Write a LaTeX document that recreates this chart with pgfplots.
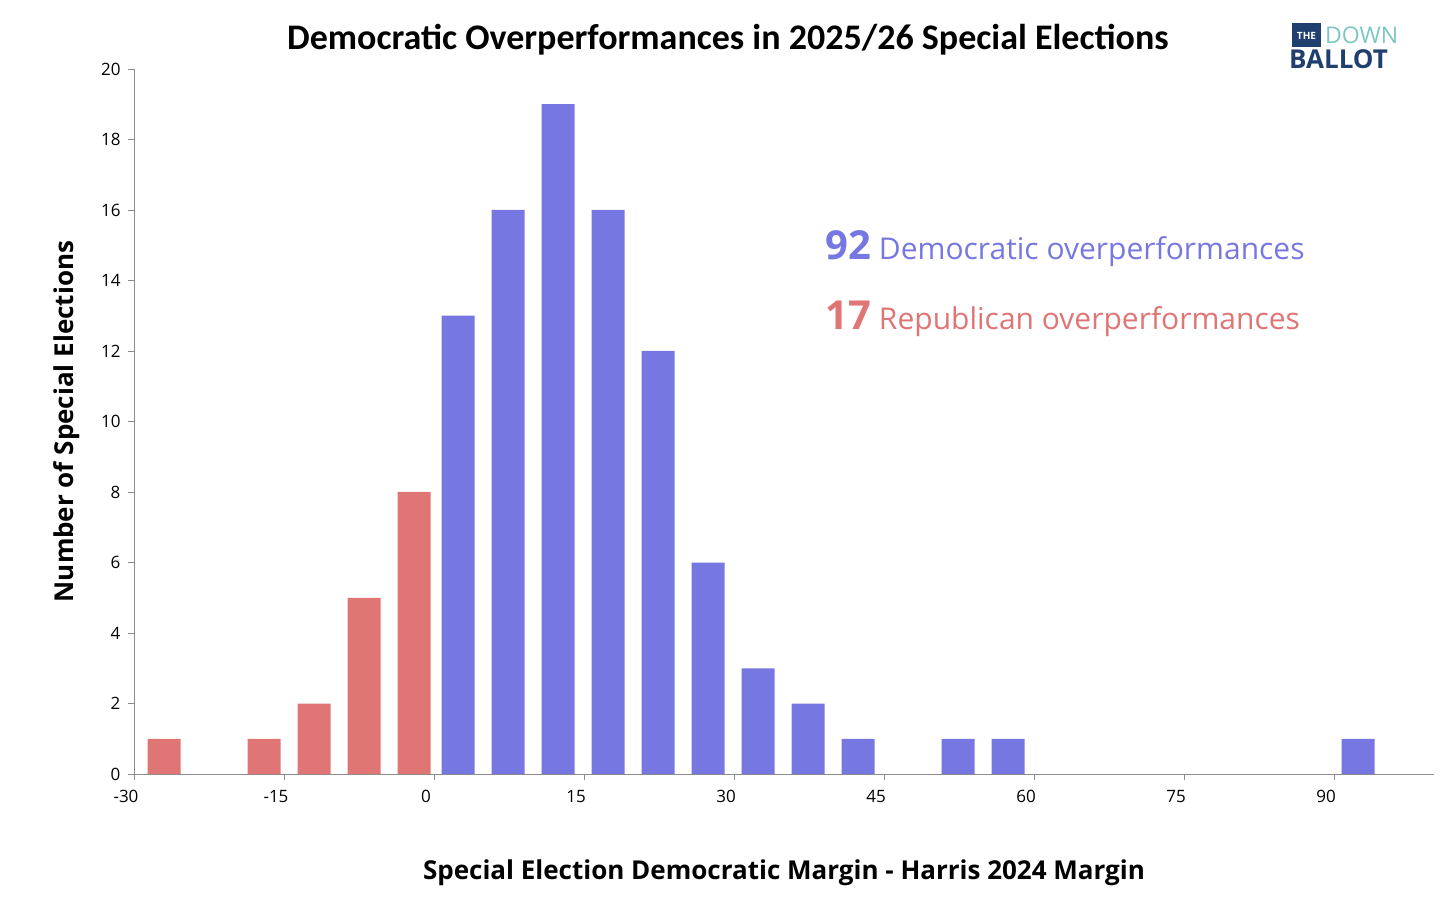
\documentclass[border=0pt]{standalone}
\usepackage{pgfplots}
\pgfplotsset{compat=1.18}
\usepackage{fontspec}
\setmainfont{Open Sans}
\newfontfamily\titlefont{Carlito}
\definecolor{dblue}{HTML}{7777E1}
\definecolor{dred}{HTML}{E07575}
\definecolor{axgray}{HTML}{8C8C8C}
\definecolor{logonavy}{HTML}{1F3F6E}
\definecolor{logoteal}{HTML}{7CC7C2}
\begin{document}
\begin{tikzpicture}
\useasboundingbox (0,0) rectangle (1456pt,911pt);
\begin{axis}[at={(134pt,137pt)}, anchor=south west, scale only axis,
  width=1300pt, height=705pt,
  xmin=-30, xmax=100, ymin=0, ymax=20,
  axis x line*=bottom, axis y line*=left,
  axis line style={axgray},
  xtick={-30,-15,0,15,30,45,60,75,90},
  ytick={0,2,...,20},
  tick style={axgray}, tick align=outside, major tick length=6pt,
  /pgf/number format/assume math mode=true,
  ticklabel style={font=\fontsize{17}{17}\selectfont},
  xticklabel style={yshift=-7pt, xshift=-8pt},
  yticklabel style={xshift=-4pt},
  xlabel={Special Election Democratic Margin - Harris 2024 Margin},
  ylabel={Number of Special Elections},
  xlabel style={font=\fontsize{26}{26}\selectfont\bfseries, yshift=-50pt},
  ylabel style={font=\fontsize{26}{26}\selectfont\bfseries, yshift=14pt},
  clip=false]
\addplot[ybar, bar width=33pt, bar shift=0pt, fill=dred, draw=none] coordinates {
 (-27,1) (-17,1) (-12,2) (-7,5) (-2,8)};
\addplot[ybar, bar width=33pt, bar shift=0pt, fill=dblue, draw=none] coordinates {
 (2.4,13) (7.4,16) (12.4,19) (17.4,16) (22.4,12) (27.4,6) (32.4,3) (37.4,2)
 (42.4,1) (52.4,1) (57.4,1) (92.4,1)};
\node[anchor=base west, text=dblue, font=\fontsize{30}{30}\selectfont] at (axis cs:38.8,14.6)
 {{\fontsize{40}{40}\selectfont\bfseries 92} Democratic overperformances};
\node[anchor=base west, text=dred, font=\fontsize{30}{30}\selectfont] at (axis cs:38.8,12.6)
 {{\fontsize{40}{40}\selectfont\bfseries 17} Republican overperformances};
\end{axis}
\node[font=\titlefont\fontsize{36}{36}\selectfont\bfseries] at (728pt,871pt)
 {Democratic Overperformances in 2025/26 Special Elections};
\node[anchor=west, text=logoteal, font=\fontsize{23}{23}\selectfont, inner sep=0pt] at (1325pt,876pt) {DOWN};
\node[anchor=west, text=logonavy, font=\fontsize{26}{26}\selectfont\bfseries, inner sep=0pt] at (1289pt,852pt) {BALLOT};
\fill[logonavy] (1292pt,864pt) rectangle (1321pt,888pt);
\node[text=white, font=\fontsize{10}{10}\selectfont\bfseries] at (1306.5pt,875pt) {THE};
\end{tikzpicture}
\end{document}
